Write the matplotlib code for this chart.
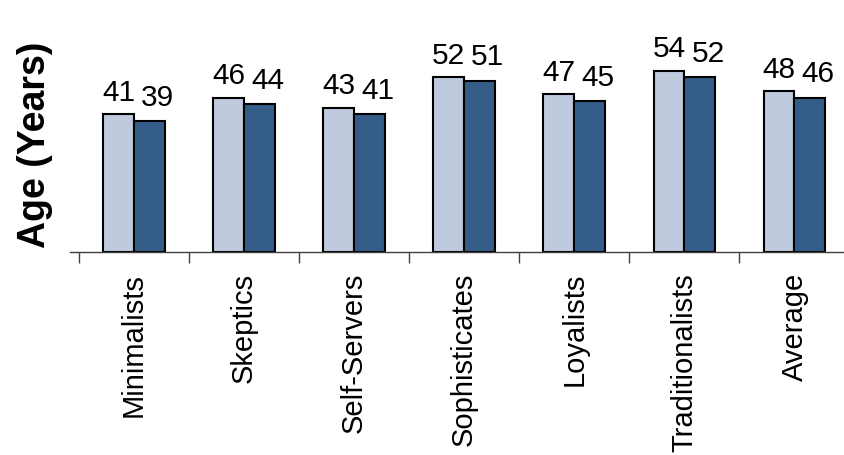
import matplotlib.pyplot as plt

segments = ['Minimalists', 'Skeptics', 'Self-Servers', 'Sophisticates',
            'Loyalists', 'Traditionalists', 'Average']
age_first = [41, 46, 43, 52, 47, 54, 48]
age_second = [39, 44, 41, 51, 45, 52, 46]

plt.rcParams['font.family'] = ['Liberation Sans', 'DejaVu Sans']

fig = plt.figure(figsize=(8.44, 4.55), dpi=100)
ax = fig.add_axes([0.083, 0.446, 0.917, 0.443])

x = list(range(len(segments)))
width = 0.28

bars1 = ax.bar([i - width / 2 for i in x], age_first, width,
               color='#bfcadf', edgecolor='black', linewidth=1.5)
bars2 = ax.bar([i + width / 2 for i in x], age_second, width,
               color='#335c88', edgecolor='black', linewidth=1.5)

# value labels above each bar
for rect, v in zip(bars1, age_first):
    ax.annotate(str(v), (rect.get_x() + rect.get_width() / 2, v),
                xytext=(0, 9.5), textcoords='offset points',
                ha='center', va='baseline', fontsize=21.5)
for rect, v in zip(bars2, age_second):
    ax.annotate(str(v), (rect.get_x() + rect.get_width() / 2, v),
                xytext=(6, 11), textcoords='offset points',
                ha='center', va='baseline', fontsize=21.5)

ax.set_xlim(-0.58, 6.45)
ax.set_ylim(0, 60)

for side in ['top', 'right', 'left']:
    ax.spines[side].set_visible(False)
ax.spines['bottom'].set_color('#404040')
ax.spines['bottom'].set_linewidth(1)

ax.set_yticks([])
ax.set_xticks(x)
ax.set_xticklabels(segments, rotation=90, fontsize=21, va='top')
ax.tick_params(axis='x', which='major', length=0, pad=15)
ax.set_xticks([i - 0.5 for i in x], minor=True)
ax.tick_params(axis='x', which='minor', length=8, width=1, color='#404040',
               direction='out')

fig.text(0.041, 0.681, 'Age (Years)', rotation=90, fontsize=27,
         fontweight='bold', ha='center', va='center')

plt.savefig('out.png', dpi=100)
